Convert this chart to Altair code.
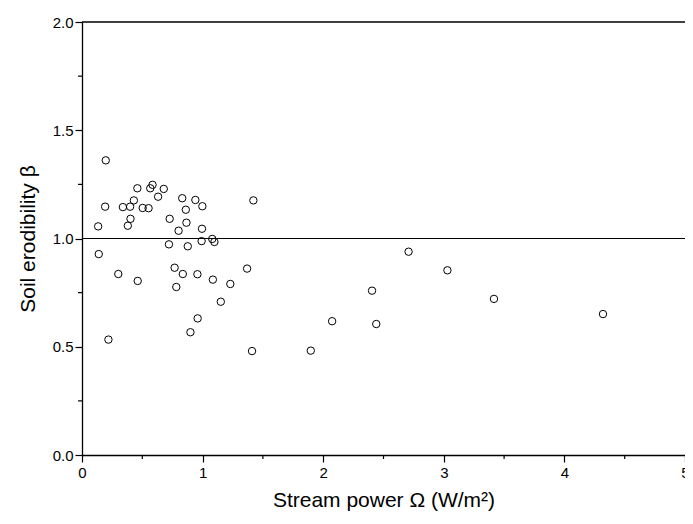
import altair as alt
import pandas as pd

# Stream power (W/m^2) and soil erodibility beta
stream_power = [
    0.197, 0.192, 0.134, 0.139, 0.219, 0.301, 0.339, 0.399, 0.430, 0.402,
    0.380, 0.459, 0.462, 0.503, 0.552, 0.585, 0.566, 0.631, 0.678, 0.727,
    0.721, 0.768, 0.836, 0.782, 0.801, 0.831, 0.861, 0.866, 0.877, 0.940,
    0.998, 0.995, 0.992, 0.957, 0.959, 0.899, 1.080, 1.098, 1.085, 1.230,
    1.151, 1.369, 1.421, 1.410, 2.708, 3.030, 2.405, 3.416, 4.320, 2.074,
    2.440, 1.897,
]
erodibility = [
    1.361, 1.147, 1.056, 0.928, 0.533, 0.836, 1.145, 1.147, 1.176, 1.091,
    1.059, 1.232, 0.804, 1.141, 1.140, 1.248, 1.232, 1.193, 1.229, 1.091,
    0.973, 0.865, 0.836, 0.776, 1.036, 1.186, 1.133, 1.073, 0.964, 1.178,
    1.149, 1.045, 0.988, 0.835, 0.631, 0.567, 0.998, 0.984, 0.810, 0.790,
    0.708, 0.861, 1.176, 0.480, 0.939, 0.853, 0.759, 0.721, 0.651, 0.618,
    0.605, 0.482,
]
reference_level = [1.0]
top_frame = [2.0]

x_major_ticks = [0, 1, 2, 3, 4, 5]
x_minor_ticks = [0.5, 1.5, 2.5, 3.5, 4.5]
y_major_ticks = [0.0, 0.5, 1.0, 1.5, 2.0]
y_minor_ticks = [0.25, 0.75, 1.25, 1.75]

df = pd.DataFrame({"omega": stream_power, "beta": erodibility})
ref = pd.DataFrame({"level": reference_level})
top = pd.DataFrame({"level": top_frame})
xminor = pd.DataFrame({"v": x_minor_ticks})
yminor = pd.DataFrame({"v": y_minor_ticks})

FONT = "Liberation Sans"
W, H = 603, 433

x_scale = alt.Scale(domain=[0, 5], nice=False, zero=False)
y_scale = alt.Scale(domain=[0, 2], nice=False, zero=False)

x_axis = alt.Axis(
    title="Stream power Ω (W/m²)",
    values=x_major_ticks,
    format="d",
    ticks=True, tickSize=7, tickColor="black", tickWidth=1.2,
    domainColor="black", domainWidth=1.3,
    labelFont=FONT, labelFontSize=15, labelColor="black", labelPadding=3,
    labelFlush=False, labelOverlap=False,
    titleFont=FONT, titleFontSize=21, titleFontWeight="normal", titleColor="black",
    titleY=51, titleBaseline="alphabetic",
    grid=False,
)
y_axis = alt.Axis(
    title="Soil erodibility β",
    values=y_major_ticks,
    format=".1f",
    ticks=True, tickSize=7, tickColor="black", tickWidth=1.2,
    domainColor="black", domainWidth=1.3,
    labelFont=FONT, labelFontSize=15, labelColor="black", labelPadding=2,
    labelFlush=False, labelOverlap=False,
    titleFont=FONT, titleFontSize=21, titleFontWeight="normal", titleColor="black",
    titleX=-54, titleY=H / 2, titleAlign="center", titleBaseline="middle", titleAngle=270,
    grid=False,
)

points = alt.Chart(df).mark_point(
    shape="circle", filled=False, color="black", size=55, strokeWidth=1, opacity=1
).encode(
    x=alt.X("omega:Q", scale=x_scale, axis=x_axis),
    y=alt.Y("beta:Q", scale=y_scale, axis=y_axis),
)

ref_line = alt.Chart(ref).mark_rule(color="black", strokeWidth=1.2).encode(
    y=alt.Y("level:Q", scale=y_scale)
)
top_line = alt.Chart(top).mark_rule(color="black", strokeWidth=1.3).encode(
    y=alt.Y("level:Q", scale=y_scale)
)
x_minor = alt.Chart(xminor).mark_rule(color="black", strokeWidth=1.2).encode(
    x=alt.X("v:Q", scale=x_scale),
    y=alt.value(H),
    y2=alt.value(H + 4),
)
y_minor = alt.Chart(yminor).mark_rule(color="black", strokeWidth=1.2).encode(
    y=alt.Y("v:Q", scale=y_scale),
    x=alt.value(0),
    x2=alt.value(-4),
)

chart = alt.layer(ref_line, top_line, x_minor, y_minor, points).properties(
    width=W,
    height=H,
    autosize=alt.AutoSizeParams(type="none"),
    padding={"left": 74, "top": 14, "right": 0, "bottom": 61},
    background="white",
).configure_view(stroke=None)

chart.save("out.html", embed_options={"renderer": "svg", "actions": False})
